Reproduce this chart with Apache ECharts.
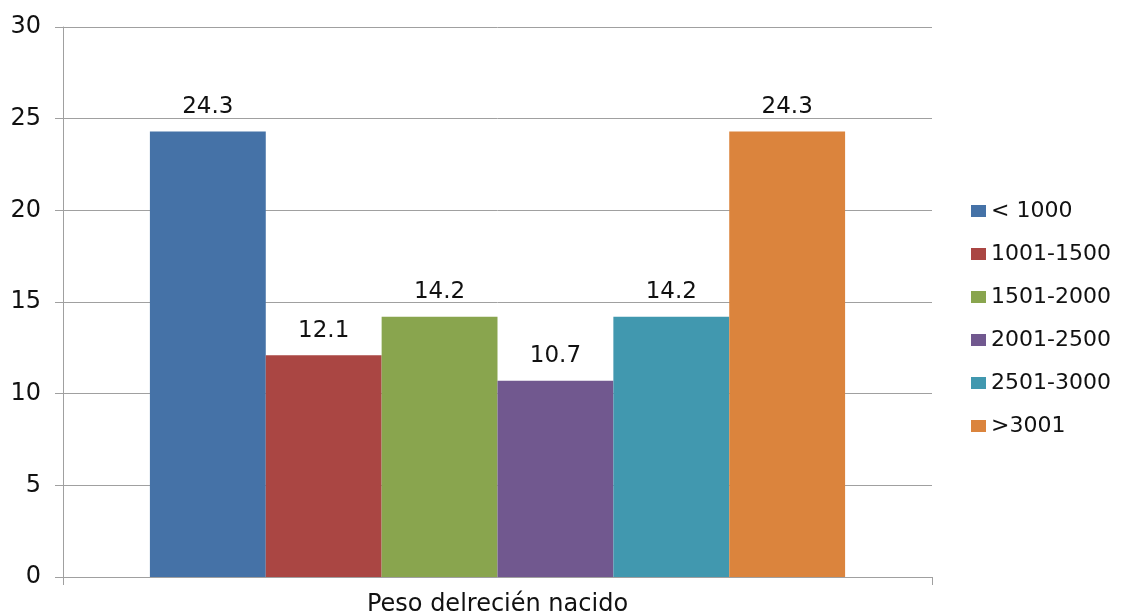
<!DOCTYPE html>
<html>
<head>
<meta charset="utf-8">
<script src="https://cdn.jsdelivr.net/npm/echarts@6/dist/echarts.min.js"></script>
<style>
  html, body { margin: 0; padding: 0; background: #fff; }
  #chart { width: 1126px; height: 616px; }
</style>
</head>
<body>
<div id="chart"></div>
<script>
// datos
const categories = ['Peso delrecién nacido']
const seriesNames = ['< 1000', '1001-1500', '1501-2000', '2001-2500', '2501-3000', '>3001']
const seriesValues = [24.3, 12.1, 14.2, 10.7, 14.2, 24.3]
const colors = ['#4572A7', '#AA4643', '#89A54E', '#71588F', '#4198AF', '#DB843D']

const chart = echarts.init(document.getElementById('chart'))

const series = seriesNames.map((name, i) => ({
  name: name,
  type: 'bar',
  data: [seriesValues[i]],
  barGap: 0,
  barCategoryGap: '20%',
  itemStyle: { color: colors[i] },
  label: {
    show: true,
    position: 'top',
    distance: 13,
    fontSize: 23,
    fontFamily: 'DejaVu Sans',
    color: '#111',
    formatter: p => p.value.toFixed(1)
  }
}))

chart.setOption({
  animation: false,
  textStyle: { fontFamily: 'DejaVu Sans' },
  grid: { left: 63, right: 194, top: 27, bottom: 39, outerBoundsMode: 'none' },
  legend: {
    orient: 'vertical',
    left: 971,
    top: 200,
    padding: 0,
    itemWidth: 15,
    itemHeight: 12,
    itemGap: 21,
    icon: 'rect',
    textStyle: { fontSize: 22, lineHeight: 22, color: '#111' },
    data: seriesNames
  },
  xAxis: {
    type: 'category',
    data: categories,
    axisLine: { lineStyle: { color: '#a0a0a0' } },
    axisTick: { show: true, length: 8, lineStyle: { color: '#a0a0a0' } },
    axisLabel: { fontSize: 24, color: '#111', margin: 16 }
  },
  yAxis: {
    type: 'value',
    min: 0,
    max: 30,
    interval: 5,
    axisLine: { show: true, lineStyle: { color: '#a0a0a0' } },
    axisTick: { show: true, length: 8, lineStyle: { color: '#a0a0a0' } },
    axisLabel: { fontSize: 24, color: '#111', margin: 22 },
    splitLine: { lineStyle: { color: '#a0a0a0' } }
  },
  series: series
})
</script>
</body>
</html>
